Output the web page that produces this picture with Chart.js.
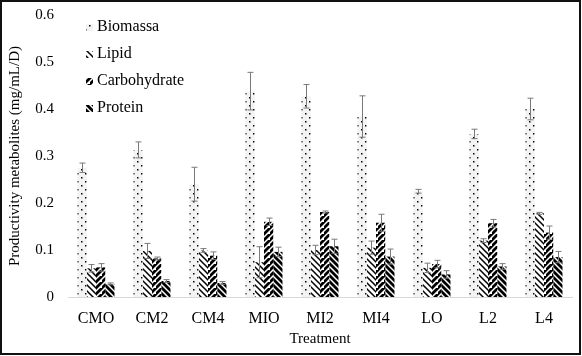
<!DOCTYPE html>
<html>
<head>
<meta charset="utf-8">
<script src="https://cdn.jsdelivr.net/npm/chart.js@4"></script>
<style>
html,body{margin:0;padding:0;background:#fff;}
#wrap{width:582px;height:356px;position:relative;}
</style>
</head>
<body>
<div id="wrap"><canvas id="c" width="582" height="356"></canvas></div>
<script>
const categories = ['CMO','CM2','CM4','MIO','MI2','MI4','LO','L2','L4'];
const seriesNames = ['Biomassa','Lipid','Carbohydrate','Protein'];
const biomassa = [0.275,0.313,0.240,0.438,0.427,0.384,0.225,0.347,0.400];
const biomassaErr = [0.010,0.017,0.036,0.040,0.025,0.044,0.004,0.010,0.023];
const lipid = [0.061,0.098,0.099,0.074,0.100,0.105,0.062,0.120,0.178];
const lipidErr = [0.008,0.016,0.004,0.033,0.010,0.014,0.010,0.004,0.002];
const carbohydrate = [0.063,0.082,0.088,0.160,0.181,0.158,0.070,0.157,0.137];
const carbohydrateErr = [0.008,0.003,0.008,0.008,0.002,0.018,0.008,0.008,0.014];
const protein = [0.028,0.034,0.030,0.096,0.108,0.086,0.048,0.065,0.085];
const proteinErr = [0.002,0.003,0.003,0.010,0.015,0.016,0.008,0.006,0.012];
const yTicks = [0,0.1,0.2,0.3,0.4,0.5,0.6];

const FONT = 'Liberation Serif';

function makePattern(kind){
  const t = document.createElement('canvas');
  const s = (kind==='dots') ? 8 : 6;
  t.width = s; t.height = s;
  const g = t.getContext('2d');
  if(kind==='dots'){
    g.fillStyle = '#f3f3f3'; g.fillRect(0,0,s,s);
    g.fillStyle = '#000';
    g.fillRect(1,1,1.5,1.5);
    g.fillRect(5,5,1.5,1.5);
  } else {
    g.fillStyle = '#fff'; g.fillRect(0,0,s,s);
    g.strokeStyle = '#000';
    g.lineWidth = kind==='thinBack' ? 1.5 : 2.8;
    g.beginPath();
    if(kind==='fwd'){
      g.moveTo(-1,s+1); g.lineTo(s+1,-1);
      g.moveTo(-1-s,s+1); g.lineTo(1,-1);
      g.moveTo(s-1,2*s+1); g.lineTo(2*s+1,s-1);
    } else {
      g.moveTo(-1,-1); g.lineTo(s+1,s+1);
      g.moveTo(s-1,-1); g.lineTo(2*s+1,s+1);
      g.moveTo(-s-1,-1); g.lineTo(1,s+1);
    }
    g.stroke();
  }
  return document.getElementById('c').getContext('2d').createPattern(t,'repeat');
}

const fills = [makePattern('dots'), makePattern('thinBack'), makePattern('fwd'), makePattern('back')];
const values = [biomassa, lipid, carbohydrate, protein];
const errors = [biomassaErr, lipidErr, carbohydrateErr, proteinErr];

const errorBarPlugin = {
  id:'errbars',
  afterDatasetsDraw(chart){
    const ctx = chart.ctx, y = chart.scales.y;
    ctx.save();
    ctx.strokeStyle = '#7a7a7a';
    ctx.lineWidth = 1;
    chart.data.datasets.forEach((ds,i)=>{
      const meta = chart.getDatasetMeta(i);
      meta.data.forEach((bar,j)=>{
        const v = ds.data[j], e = errors[i][j];
        const x = Math.round(bar.x)+0.5;
        const yt = y.getPixelForValue(v+e), yb = y.getPixelForValue(v-e);
        ctx.beginPath();
        ctx.moveTo(x,yt); ctx.lineTo(x,yb);
        ctx.moveTo(x-3,yt); ctx.lineTo(x+3,yt);
        ctx.moveTo(x-3,yb); ctx.lineTo(x+3,yb);
        ctx.stroke();
      });
    });
    ctx.restore();
  }
};

const legendPlugin = {
  id:'customLegend',
  afterDraw(chart){
    const ctx = chart.ctx;
    ctx.save();
    ctx.font = '16px "' + FONT + '"';
    ctx.textBaseline = 'middle';
    ctx.fillStyle = '#000';
    const ys = [27,54,81,108];
    seriesNames.forEach((n,i)=>{
      ctx.fillStyle = fills[i];
      ctx.fillRect(86, ys[i]-3, 7, 7);
      ctx.fillStyle = '#000';
      ctx.fillText(n, 97, ys[i]);
    });
    ctx.strokeStyle = '#111';
    ctx.lineWidth = 2;
    ctx.strokeRect(1,1,579,353);
    ctx.restore();
  }
};

new Chart(document.getElementById('c'), {
  type:'bar',
  data:{
    labels: categories,
    datasets: seriesNames.map((n,i)=>({
      label:n,
      data: values[i],
      backgroundColor: fills[i],
      borderWidth:0,
      categoryPercentage:0.66,
      barPercentage:1.0
    }))
  },
  options:{
    responsive:false,
    animation:false,
    devicePixelRatio:1,
    layout:{padding:{left:0,right:10,top:0,bottom:0}},
    plugins:{legend:{display:false}, tooltip:{enabled:false}},
    scales:{
      x:{
        grid:{display:false, drawTicks:false},
        border:{display:true, color:'#d9d9d9', width:1},
        ticks:{color:'#000', font:{family:FONT, size:16}, padding:12, maxRotation:0},
        title:{display:true, text:'Treatment', color:'#000', font:{family:FONT, size:15}, padding:{top:2,bottom:8}},
        afterFit(s){ s.height = 59; }
      },
      y:{
        min:0, max:0.6,
        afterBuildTicks(s){ s.ticks = yTicks.map(v=>({value:v})); },
        grid:{display:false, drawTicks:false},
        border:{display:false},
        ticks:{color:'#000', font:{family:FONT, size:15}, padding:14,
          callback:(v)=> String(v)},
        title:{display:true, text:'Productivity metabolites (mg/mL/D)', color:'#000', font:{family:FONT, size:15}, padding:{top:6,bottom:0}},
        afterFit(s){ s.width = 68; s.paddingTop = 15; }
      }
    }
  },
  plugins:[errorBarPlugin, legendPlugin]
});
</script>
</body>
</html>
